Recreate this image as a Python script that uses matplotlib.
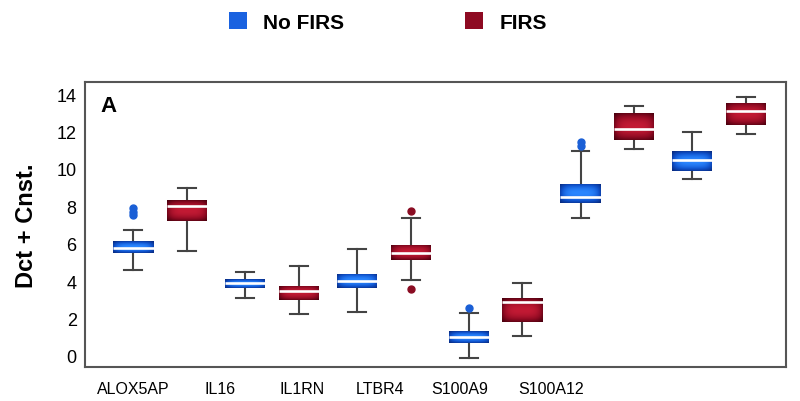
import matplotlib
matplotlib.use('Agg')
import matplotlib.pyplot as plt
import numpy as np
from matplotlib.colors import LinearSegmentedColormap
from matplotlib.patches import Patch

plt.rcParams['font.family'] = ['Liberation Sans', 'DejaVu Sans']

# ---- data ----
genes = ['ALOX5AP', 'IL16', 'IL1RN', 'LTBR4', 'S100A9', 'S100A12']

no_whislo = [4.60, 3.08, 2.33, -0.12, 7.36, 9.47]
no_q1 = [5.51, 3.62, 3.64, 0.67, 8.18, 9.91]
no_med = [5.78, 3.89, 3.98, 1.03, 8.52, 10.50]
no_q3 = [6.13, 4.10, 4.39, 1.30, 9.21, 10.96]
no_whishi = [6.74, 4.46, 5.69, 2.28, 10.96, 11.96]
no_fliers = [[7.90, 7.70, 7.55], [], [], [2.57], [11.46, 11.21], []]

firs_whislo = [5.60, 2.21, 4.06, 1.05, 11.07, 11.89]
firs_q1 = [7.20, 2.96, 5.13, 1.83, 11.57, 12.37]
firs_med = [7.99, 3.48, 5.51, 2.87, 12.14, 13.12]
firs_q3 = [8.31, 3.76, 5.95, 3.08, 13.01, 13.55]
firs_whishi = [8.98, 4.83, 7.36, 3.90, 13.37, 13.87]
firs_fliers = [[], [], [7.74, 3.58], [], [], []]

# tick labels sit off-centre in the original figure
label_pos = [-0.24, 0.535, 1.27, 1.965, 2.68, 3.50]


def make_stats(lo, q1, med, q3, hi, fl):
    return [dict(whislo=a, q1=b, med=c, q3=d, whishi=e, fliers=f)
            for a, b, c, d, e, f in zip(lo, q1, med, q3, hi, fl)]


blue_cmap = LinearSegmentedColormap.from_list('b', ['#082a80', '#0f52cc', '#2a86ff'])
red_cmap = LinearSegmentedColormap.from_list('r', ['#4a000e', '#8e0a22', '#c21a34'])

# pillow-like shading for the boxes
u = np.linspace(-1, 1, 60)
v = np.linspace(-1, 1, 60)
U, V = np.meshgrid(u, v)
shade = (1 - 0.55 * np.abs(U) ** 4) * (1 - 0.65 * np.abs(V) ** 2)

fig = plt.figure(figsize=(8, 4.02), dpi=100)
ax = fig.add_axes([0.10625, 0.0846, 0.87625, 0.7089])

x = np.arange(len(genes))
offset = 0.24
width = 0.36

for stats, pos, cmap, col in [
    (make_stats(no_whislo, no_q1, no_med, no_q3, no_whishi, no_fliers), x - offset, blue_cmap, '#1a5fd6'),
    (make_stats(firs_whislo, firs_q1, firs_med, firs_q3, firs_whishi, firs_fliers), x + offset, red_cmap, '#8a0c22'),
]:
    bp = ax.bxp(stats, positions=pos, widths=width, capwidths=0.16,
                patch_artist=True, showfliers=True,
                boxprops=dict(facecolor='none', edgecolor='none'),
                medianprops=dict(color='white', linewidth=1.9, solid_capstyle='butt', zorder=4),
                whiskerprops=dict(color='#444444', linewidth=1.5),
                capprops=dict(color='#444444', linewidth=1.5),
                flierprops=dict(marker='o', markerfacecolor=col, markeredgecolor=col,
                                markersize=5))
    for box in bp['boxes']:
        ext = box.get_path().get_extents()
        im = ax.imshow(shade, cmap=cmap, vmin=0.2, vmax=1.0, aspect='auto',
                       extent=[ext.x0, ext.x1, ext.y0, ext.y1], origin='lower',
                       interpolation='bilinear', zorder=3)
        im.set_clip_path(box)

ax.set_xlim(-0.673, 5.598)
ax.set_ylim(-0.6, 14.65)

ax.set_yticks(np.arange(0, 15, 2))
ax.tick_params(axis='y', length=0, pad=6, labelsize=13)
ax.set_xticks(label_pos)
ax.set_xticklabels(genes)
ax.tick_params(axis='x', length=0, pad=10, labelsize=11.5)

for s in ax.spines.values():
    s.set_color('#555555')
    s.set_linewidth(1.5)

ax.set_ylabel('Dct + Cnst.', fontsize=17, fontweight='bold', labelpad=13)
ax.text(0.022, 0.955, 'A', transform=ax.transAxes, fontsize=16, fontweight='bold',
        ha='left', va='top')

handles = [Patch(facecolor='#1a62e0', label='No FIRS'),
           Patch(facecolor='#8e0a22', label='FIRS')]
fig.legend(handles=handles, loc='center', bbox_to_anchor=(0.485, 0.943), ncol=2,
           frameon=False, prop=dict(size=15, weight='bold'),
           handlelength=0.85, handleheight=0.85, handletextpad=0.8, columnspacing=5.8)

fig.savefig('out.png', dpi=100, facecolor='white')
